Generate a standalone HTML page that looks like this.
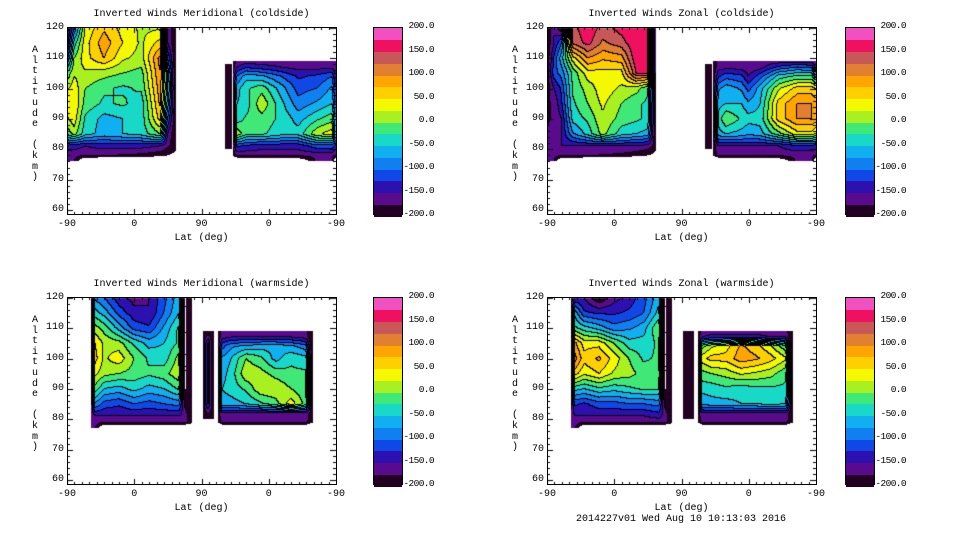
<!DOCTYPE html>
<html><head><meta charset="utf-8">
<style>
body{margin:0;background:#fff;width:960px;height:540px;overflow:hidden;position:relative;font-family:"Liberation Mono",monospace;font-size:10px;color:#000}
.t{position:absolute;white-space:nowrap;line-height:10px}
.cbl{font-size:9.5px;letter-spacing:-0.6px}
canvas{position:absolute}
.frame{position:absolute;border:1px solid #000;box-sizing:border-box}
</style></head><body>
<div id="root"></div>
<script>
// ---- data ----
const bandColors=["#220022","#5a0a8c","#2c10b0","#1048e8","#1080f0","#10b0f0","#18d8c8","#40e878","#a8f020","#f4f800","#ffd000","#ffa400","#e08030","#c85858","#f01060","#f050c0"];
const cbLabels=["200.0","150.0","100.0","50.0","0.0","-50.0","-100.0","-150.0","-200.0"];
const cbValues=[200,150,100,50,0,-50,-100,-150,-200];
const yTicks=[60,70,80,90,100,110,120];
const xTickPos=[-90,0,90,180,270];
const xTickLabels=["-90","0","90","0","-90"];
// blocks: c = column positions (lat; right half = 180-lat), r = altitudes (top first), v = values
const tlBlocks=[
 {c:[-90,-80,-65,-40,-15,10,35,45,56],r:[120,115,110,105,100,95,90,85,81,78,76],v:[
 [-200,-100,30,70,40,20,20,-150,-200],
 [-180,-40,40,90,50,20,60,-150,-200],
 [-120,0,40,75,30,15,110,-100,-200],
 [-20,20,20,10,0,-10,100,-50,-200],
 [20,40,0,-20,-30,-20,90,-40,-200],
 [30,50,-10,-30,-20,-40,80,-60,-200],
 [20,40,-30,-60,-50,-40,60,-100,-200],
 [-20,10,-40,-60,-50,-40,0,-150,-200],
 [-130,-140,-150,-140,-140,-140,-150,-170,-190],
 [-165,-165,-165,-170,-175,-180,-190,-200,-210],
 [-170,-175,-260,-260,-260,-260,-260,-260,-260]]},
 {c:[121,131],r:[108,80],v:[[-195,-195],[-195,-195]]},
 {c:[132,138,150,171,196,220,245,265,270],r:[109,107,104,100,95,90,85,81,78,76],v:[
 [-200,-165,-165,-165,-165,-165,-165,-165,-175],
 [-190,-150,-130,-140,-150,-160,-160,-160,-170],
 [-180,-100,-60,-70,-100,-130,-120,-100,-150],
 [-170,-60,-30,-10,-60,-110,-100,-70,-130],
 [-170,-50,-40,20,-40,-90,-70,-50,-110],
 [-170,-40,-20,-10,-30,-60,-30,-10,-80],
 [-170,20,-20,-20,-40,-40,20,40,-60],
 [-180,-120,-130,-140,-140,-140,-110,-110,-140],
 [-195,-165,-165,-165,-165,-165,-165,-165,-170],
 [-260,-260,-260,-260,-260,-240,-170,-170,-260]]}];
const trBlocks=[
 {c:[-90,-80,-70,-55,-35,-15,10,30,45,56],r:[120,115,110,105,100,95,90,85,81,78,76],v:[
 [-200,-150,-200,140,170,140,160,170,170,-200],
 [-200,-150,-100,130,160,120,140,170,170,-200],
 [-200,-120,-60,40,100,80,90,170,170,-200],
 [-200,-110,-90,-20,40,40,40,150,150,-200],
 [-190,-150,-120,-20,10,40,20,10,-20,-200],
 [-180,-170,-130,-30,0,30,0,-20,-30,-200],
 [-180,-170,-150,-40,-20,20,-10,-20,-30,-200],
 [-170,-160,-150,-80,-40,10,-40,-50,-60,-200],
 [-160,-150,-150,-150,-150,-150,-150,-150,-160,-190],
 [-165,-165,-165,-165,-170,-175,-180,-190,-200,-210],
 [-170,-175,-260,-260,-260,-260,-260,-260,-260,-260]]},
 {c:[121,131],r:[108,80],v:[[-195,-195],[-195,-195]]},
 {c:[132,140,150,171,180,196,220,245,265,270],r:[109,107,104,100,95,90,85,81,78,76],v:[
 [-200,-165,-165,-165,-175,-165,-165,-165,-165,-175],
 [-200,-160,-160,-160,-170,-160,-120,-100,-110,-160],
 [-200,-130,-110,-120,-150,-110,-40,-20,-20,-60],
 [-200,-80,-60,-80,-110,-60,20,60,60,50],
 [-200,-60,-50,-50,-70,-50,60,100,100,90],
 [-200,-40,0,-30,-40,-40,60,100,100,90],
 [-200,-60,-50,-60,-70,-60,-10,40,40,20],
 [-200,-150,-150,-150,-150,-150,-150,-130,-130,-140],
 [-200,-165,-165,-165,-165,-165,-165,-165,-165,-170],
 [-260,-260,-260,-260,-260,-260,-240,-170,-170,-260]]}];
const blBlocks=[
 {c:[-58,-52,-40,-20,0,20,40,60,68,77],r:[120,115,110,105,100,95,90,85,81,79,77],v:[
 [-200,-80,-100,-140,-160,-150,-110,-60,-200,-200],
 [-200,-40,-60,-110,-140,-150,-100,-50,-200,-200],
 [-200,10,-10,-60,-110,-120,-70,-20,-200,-200],
 [-200,50,20,10,-30,-60,-50,-20,-200,-200],
 [-200,60,20,40,0,-30,-40,10,-200,-200],
 [-200,30,10,0,-10,-20,-10,20,-200,-200],
 [-200,-10,-50,-60,-40,-60,-50,-20,-200,-200],
 [-190,-80,-110,-120,-100,-110,-100,-90,-180,-200],
 [-170,-150,-150,-150,-150,-150,-150,-150,-160,-190],
 [-165,-165,-165,-165,-165,-165,-165,-165,-165,-190],
 [-170,-170,-260,-260,-260,-260,-260,-260,-260,-260]]},
 {c:[92,99,107],r:[109,105,85,80],v:[[-200,-200,-200],[-200,-120,-200],[-200,-120,-200],[-200,-200,-200]]},
 {c:[112,118,130,150,170,190,210,230,239],r:[109,107,104,100,95,90,85,82,79,77],v:[
 [-200,-165,-165,-165,-165,-165,-165,-165,-200],
 [-200,-160,-150,-150,-150,-150,-150,-160,-200],
 [-200,-110,-80,-70,-60,-60,-70,-90,-200],
 [-200,-70,-50,0,-20,-60,-30,-40,-200],
 [-200,-60,-40,20,10,-10,-20,-20,-200],
 [-200,-50,-40,-20,20,20,0,-20,-200],
 [-200,-60,-60,-50,-30,-10,40,-10,-200],
 [-200,-150,-150,-150,-150,-150,-150,-150,-200],
 [-200,-165,-165,-165,-165,-165,-165,-165,-200],
 [-260,-260,-260,-260,-260,-260,-260,-260,-260]]}];
const brBlocks=[
 {c:[-58,-52,-40,-20,0,20,40,60,68,77],r:[120,115,110,105,100,95,90,85,81,79,77],v:[
 [-200,-150,-150,-200,-160,-140,-110,-60,-200,-200],
 [-200,-60,-120,-130,-130,-120,-100,-40,-200,-200],
 [-200,-20,-40,-60,-90,-80,-60,0,-200,-200],
 [-200,80,40,40,0,-40,-40,-20,-200,-200],
 [-200,110,60,80,40,0,-30,-20,-200,-200],
 [-200,60,30,50,20,10,-10,-10,-200,-200],
 [-200,-40,-50,-30,-40,-30,-20,-20,-200,-200],
 [-190,-120,-130,-110,-110,-100,-100,-90,-180,-200],
 [-170,-150,-150,-150,-150,-150,-150,-140,-160,-190],
 [-165,-165,-165,-165,-165,-165,-165,-165,-165,-190],
 [-170,-170,-260,-260,-260,-260,-260,-260,-260,-260]]},
 {c:[92,99,107],r:[109,105,85,80],v:[[-200,-200,-200],[-200,-180,-200],[-200,-180,-200],[-200,-200,-200]]},
 {c:[112,118,130,150,170,190,210,230,239],r:[109,107,104,100,95,90,85,82,79,77],v:[
 [-200,-165,-165,-165,-165,-165,-165,-165,-200],
 [-200,-150,-140,-140,-140,-140,-150,-150,-200],
 [-200,-10,20,40,80,60,30,-20,-200],
 [-200,40,60,60,90,80,60,30,-200],
 [-200,-10,0,10,30,20,10,-20,-200],
 [-200,-40,-40,-30,-40,-30,-30,-30,-200],
 [-200,-70,-60,-60,-50,-50,-40,-50,-200],
 [-200,-150,-150,-150,-150,-150,-150,-150,-200],
 [-200,-165,-165,-165,-165,-165,-165,-165,-200],
 [-260,-260,-260,-260,-260,-260,-260,-260,-260]]}];

const root=document.getElementById('root');
const W=269,H=188;
function txt(x,y,s,align,name,cls){
 const d=document.createElement('div');d.className='t'+(cls?' '+cls:'');d.textContent=s;
 
 
 d.style.top=(y-5)+'px';
 if(align==='r'){d.style.right=(960-x)+'px';}
 else if(align==='c'){d.style.left=(x-200)+'px';d.style.width='400px';d.style.textAlign='center';}
 else d.style.left=x+'px';
 root.appendChild(d);return d;
}
function bandOf(v){let b=Math.floor((v+200)/25);return Math.max(0,Math.min(15,b));}
function locate(arr,x){
 for(let i=0;i<arr.length-1;i++){if(x<=arr[i+1]||i===arr.length-2){return [i,Math.max(0,Math.min(1,(x-arr[i])/(arr[i+1]-arr[i])))];}}
}
function panel(ox,oy,cbx,title,blocks,key){
 const xs=p=>(p+90)/360*W;
 const ys=a=>1+(120-a)/60*182;
 const pOf=x=>x/W*360-90;
 const aOf=y=>120-(y-1)/182*60;
 const cv=document.createElement('canvas');cv.width=W;cv.height=H;
 cv.style.left=ox+'px';cv.style.top=oy+'px';
 
 
 root.appendChild(cv);
 const ctx=cv.getContext('2d');const img=ctx.createImageData(W,H);
 const band=new Int16Array(W*H).fill(-1);
 blocks.forEach(b=>{
  const rAsc=b.r.slice().reverse();
  const x0=Math.round(xs(b.c[0])),x1=Math.round(xs(b.c[b.c.length-1]));
  const y0=Math.round(ys(b.r[0])),y1=Math.round(ys(b.r[b.r.length-1]));
  const nr=b.r.length;
  for(let y=Math.max(0,y0);y<Math.min(H,y1);y++)for(let x=Math.max(0,x0);x<Math.min(W,x1);x++){
   const p=Math.max(b.c[0],Math.min(b.c[b.c.length-1],pOf(x+0.5)));
   const a=Math.max(rAsc[0],Math.min(rAsc[nr-1],aOf(y+0.5)));
   const [i,tx]=locate(b.c,p);const [ja,ty]=locate(rAsc,a);
   const j0=nr-1-ja, j1=nr-2-ja;
   const lo=b.v[j0][i]*(1-tx)+b.v[j0][i+1]*tx;
   const hi=b.v[j1][i]*(1-tx)+b.v[j1][i+1]*tx;
   const v=lo*(1-ty)+hi*ty;
   if(v<-200)continue;
   band[y*W+x]=bandOf(v);
  }
 });
 for(let y=0;y<H;y++)for(let x=0;x<W;x++){
  const b=band[y*W+x];const k=(y*W+x)*4;
  if(b<0){img.data[k]=img.data[k+1]=img.data[k+2]=255;img.data[k+3]=255;continue;}
  let line=false;
  if(x+1<W&&band[y*W+x+1]>=0&&band[y*W+x+1]!==b)line=true;
  if(y+1<H&&band[(y+1)*W+x]>=0&&band[(y+1)*W+x]!==b)line=true;
  const c=line?"#000000":bandColors[b];
  img.data[k]=parseInt(c.substr(1,2),16);img.data[k+1]=parseInt(c.substr(3,2),16);img.data[k+2]=parseInt(c.substr(5,2),16);img.data[k+3]=255;
 }
 ctx.putImageData(img,0,0);
 const f=document.createElement('div');f.className='frame';
 
 
 f.style.left=ox+'px';f.style.top=oy+'px';f.style.width=(W+1)+'px';f.style.height=H+'px';root.appendChild(f);
 ctx.fillStyle='#000';
 for(let a=60;a<=120;a+=2){const y=Math.round(ys(a));const L=(a%10===0)?6:3;ctx.fillRect(0,y,L,1);ctx.fillRect(W-L,y,L,1);}
 for(let p=-90;p<=270;p+=10){const x=Math.round(xs(p));const L=(p%90===0)?6:3;ctx.fillRect(x,0,1,L);ctx.fillRect(x,H-L,1,L);}
 yTicks.forEach(a=>txt(ox-3,oy+ys(a),String(a),'r','y-tick-label'));
 xTickPos.forEach((p,i)=>txt(ox+xs(p),oy+H+10,xTickLabels[i],'c','x-tick-label'));
 txt(ox+W/2,oy+H+24,'Lat (deg)','c','x-axis-title');
 txt(ox+W/2,oy-12,title,'c','chart-title');
 const yl="Altitude (km)";
 for(let i=0;i<yl.length;i++){const ch=yl[i]===' '?'':yl[i];if(!ch)continue;
  txt(ox-35,oy+24+i*10.6,ch,'l','y-axis-title');}
 const cb=document.createElement('div');cb.style.position='absolute';
 
 
 cb.style.left=cbx+'px';cb.style.top=oy+'px';cb.style.width='30px';cb.style.height=H+'px';cb.style.border='1px solid #000';cb.style.boxSizing='border-box';
 for(let i=0;i<16;i++){const s=document.createElement('div');s.style.position='absolute';s.style.left='0';s.style.right='0';
  s.style.top=((15-i)*H/16)+'px';s.style.height=(H/16+0.5)+'px';s.style.background=bandColors[i];cb.appendChild(s);}
 root.appendChild(cb);
 cbValues.forEach((v,i)=>txt(cbx+61,oy-1+(200-v)/400*H,cbLabels[i],'r','colorbar-label','cbl'));
}
panel(67,27,373,'Inverted Winds Meridional (coldside)',tlBlocks,'meridional-coldside');
panel(547,27,845,'Inverted Winds Zonal (coldside)',trBlocks,'zonal-coldside');
panel(67,297,373,'Inverted Winds Meridional (warmside)',blBlocks,'meridional-warmside');
panel(547,297,845,'Inverted Winds Zonal (warmside)',brBlocks,'zonal-warmside');
txt(681,520,'2014227v01 Wed Aug 10 10:13:03 2016','c','timestamp-footer');
</script>
</body></html>
